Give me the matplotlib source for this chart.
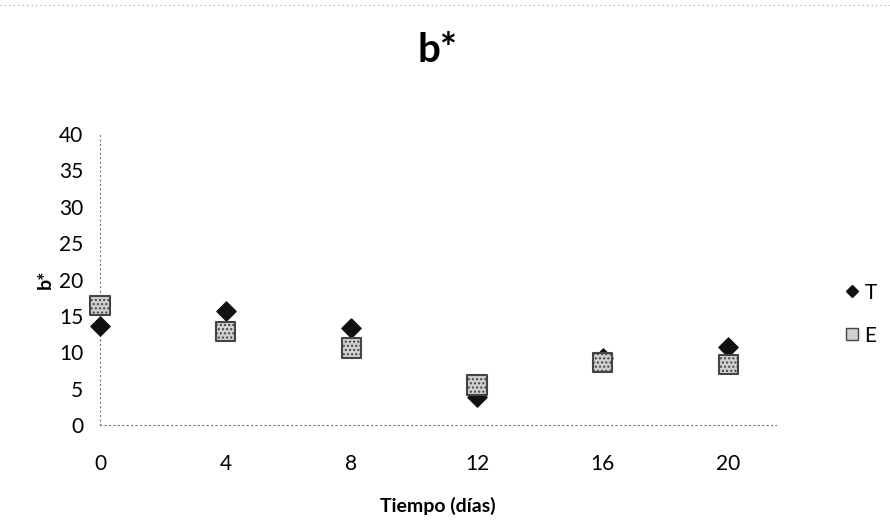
import numpy as np
import matplotlib.pyplot as plt
from matplotlib.lines import Line2D

plt.rcParams['font.family'] = ['Lato', 'DejaVu Sans']

dias = [0, 4, 8, 12, 16, 20]
b_T = [13.6, 15.7, 13.3, 3.9, 9.2, 10.7]
b_E = [16.4, 12.9, 10.6, 5.5, 8.6, 8.3]
xticks = [0, 4, 8, 12, 16, 20]
yticks = [0, 5, 10, 15, 20, 25, 30, 35, 40]

fig = plt.figure(figsize=(8.9, 5.28), dpi=100)
ax = fig.add_axes([0.1124, 0.195, 0.759, 0.551])

ax.scatter(dias, b_T, marker='D', s=95, c='#111111', edgecolors='#111111',
           zorder=3, clip_on=False)
ax.scatter(dias, b_E, marker='s', s=190, c='#cfcfcf', edgecolors='#444444',
           linewidths=1.5, hatch='....', zorder=4, clip_on=False)

ax.set_xlim(0, 21.5)
ax.set_ylim(0, 40)
ax.set_xticks(xticks)
ax.set_yticks(yticks)
ax.tick_params(length=0, labelsize=15)
ax.tick_params(axis='x', pad=21)
ax.tick_params(axis='y', pad=12)

for s in ['top', 'right']:
    ax.spines[s].set_visible(False)
for s in ['left', 'bottom']:
    ax.spines[s].set_linestyle((0, (1, 3)))
    ax.spines[s].set_color('#777777')
    ax.spines[s].set_linewidth(0.8)

ax.set_title('b*', fontsize=29, fontweight='bold', pad=52)
ax.set_xlabel('Tiempo (días)', fontsize=14, fontweight='bold', labelpad=16)
ax.set_ylabel('b*', fontsize=14, fontweight='bold', labelpad=4)

handles = [
    Line2D([], [], marker='D', linestyle='none', color='#111111', markersize=6),
    Line2D([], [], marker='s', linestyle='none', markerfacecolor='#cfcfcf',
           markeredgecolor='#444444', markersize=8),
]
fig.legend(handles, ['T', 'E'], loc='center left', bbox_to_anchor=(0.936, 0.405),
           frameon=False, fontsize=15, handletextpad=0.1, labelspacing=1.1,
           handlelength=1.0, borderaxespad=0)

fig.add_artist(Line2D([0, 1], [0.99, 0.99], transform=fig.transFigure,
                      color='#999999', linestyle=(0, (1, 3)), linewidth=0.8))

fig.savefig('out.png', dpi=100)
